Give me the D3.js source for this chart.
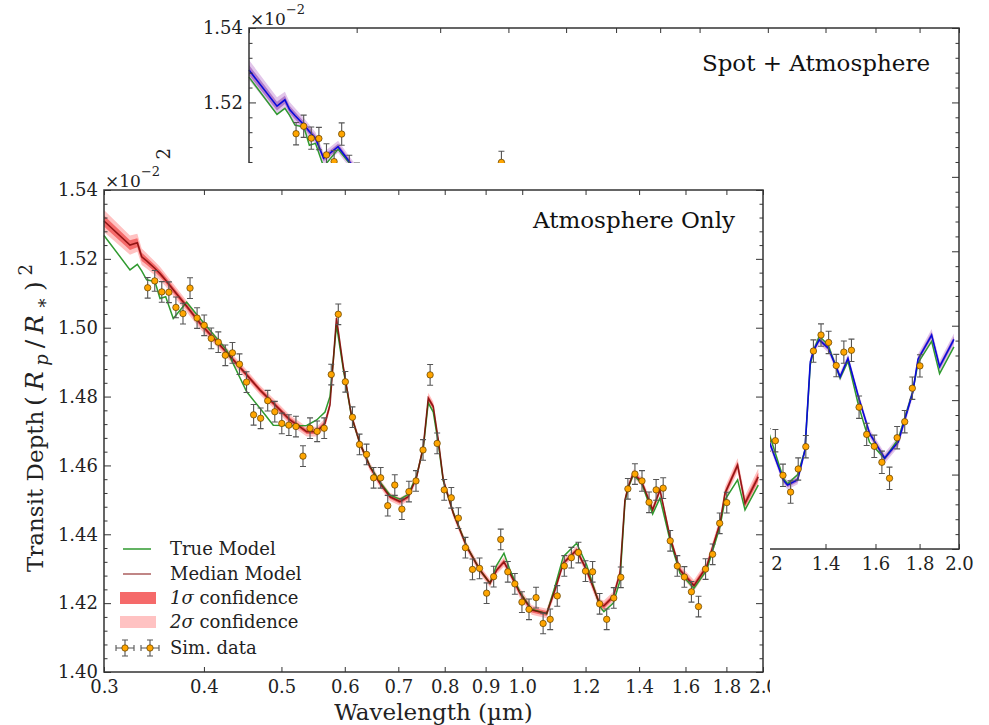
<!doctype html>
<html lang="en">
<head>
<meta charset="utf-8">
<title>Transit depth: atmosphere only vs spot + atmosphere</title>
<style>
  body { margin: 0; background: #fff; }
  svg { display: block; font-family: "DejaVu Serif", serif; }
</style>
</head>
<body>
<svg id="chart" width="989" height="725"></svg>
<script src="https://d3js.org/d3.v7.min.js"></script>
<script>
// simulated data points (shared by both panels)
const wavelengths = [0.3402,0.3472,0.3543,0.3616,0.3690,0.3766,0.3843,0.3922,0.4003,0.4085,
  0.4169,0.4254,0.4342,0.4431,0.4522,0.4615,0.4709,0.4806,0.4905,0.5005,
  0.5108,0.5213,0.5320,0.5429,0.5541,0.5655,0.5771,0.5889,0.6010,0.6134,
  0.6260,0.6388,0.6519,0.6653,0.6790,0.6929,0.7072,0.7217,0.7365,0.7516,
  0.7671,0.7828,0.7989,0.8153,0.8321,0.8492,0.8666,0.8844,0.9026,0.9211,
  0.9400,0.9593,0.9790,0.9992,1.0197,1.0406,1.0620,1.0838,1.1061,1.1288,
  1.1520,1.1757,1.1998,1.2245,1.2496,1.2753,1.3015,1.3282,1.3555,1.3833,
  1.4117,1.4407,1.4703,1.5005,1.5313,1.5628,1.5949,1.6276,1.6611,1.6952,
  1.7300,1.7655,1.8018];
const simDepth = [1.5116,1.5136,1.5104,1.5103,1.5059,1.5041,1.5115,1.5028,1.5007,1.4969,
  1.4958,1.4920,1.4927,1.4894,1.4842,1.4747,1.4737,1.4788,1.4756,1.4722,
  1.4717,1.4713,1.4627,1.4708,1.4699,1.4708,1.4864,1.5039,1.4843,1.4740,
  1.4661,1.4632,1.4564,1.4564,1.4483,1.4543,1.4473,1.4524,1.4555,1.4645,
  1.4863,1.4664,1.4529,1.4506,1.4447,1.4361,1.4298,1.4301,1.4229,1.4277,
  1.4385,1.4291,1.4256,1.4203,1.4182,1.4216,1.4141,1.4153,1.4221,1.4308,
  1.4332,1.4347,1.4293,1.4291,1.4198,1.4153,1.4215,1.4275,1.4532,1.4575,
  1.4555,1.4493,1.4529,1.4534,1.4381,1.4308,1.4276,1.4233,1.4190,1.4299,
  1.4342,1.4432,1.4492];
const simErr = 0.003;

// model curves
const modelWl = [0.300,0.3233,0.3302,0.3344,0.3392,0.3474,0.3525,0.3583,0.3662,0.3806,
  0.3955,0.4271,0.4524,0.4700,0.4884,0.5124,0.5274,0.5377,0.5534,0.5668,
  0.5750,0.5858,0.5974,0.6120,0.6268,0.6451,0.6640,0.6834,0.7033,0.7203,
  0.7379,0.7521,0.7630,0.7741,0.7853,0.7967,0.8200,0.8522,0.8855,0.9113,
  0.9291,0.9488,0.9653,0.9935,1.0276,1.0729,1.0988,1.1254,1.1697,1.2038,
  1.2508,1.2650,1.2996,1.3250,1.3442,1.3570,1.3767,1.4104,1.4557,1.4866,
  1.5301,1.5747,1.6395,1.7005,1.767,1.7926,1.859,1.899,1.973];
const trueModel = [1.5268,1.5168,1.5184,1.5165,1.5139,1.5134,1.5085,1.5090,1.5027,1.5074,
  1.5027,1.4935,1.4814,1.4766,1.4717,1.4716,1.4715,1.4716,1.4732,1.4755,
  1.4800,1.5008,1.4880,1.4740,1.4664,1.4598,1.4552,1.4514,1.4502,1.4516,
  1.4570,1.4650,1.4782,1.4755,1.4665,1.4555,1.4463,1.4366,1.4296,1.4258,
  1.4310,1.4345,1.4296,1.4232,1.4182,1.4169,1.4248,1.4335,1.4374,1.4311,
  1.4190,1.4175,1.4200,1.4265,1.4495,1.4535,1.4572,1.4548,1.4459,1.4505,
  1.4383,1.4287,1.4243,1.4296,1.4422,1.4500,1.4558,1.4471,1.4543];
const medianAtm = [1.5310,1.5240,1.5247,1.5206,1.5194,1.5172,1.5157,1.5138,1.5110,1.5062,
  1.5013,1.4928,1.4863,1.4819,1.4781,1.4732,1.4712,1.4698,1.4698,1.4722,
  1.4776,1.5028,1.4887,1.4742,1.4664,1.4596,1.4548,1.4509,1.4495,1.4509,
  1.4567,1.4654,1.4795,1.4771,1.4674,1.4558,1.4461,1.4364,1.4296,1.4258,
  1.4296,1.4320,1.4287,1.4229,1.4180,1.4170,1.4238,1.4316,1.4354,1.4296,
  1.4195,1.4192,1.4219,1.4287,1.4500,1.4538,1.4577,1.4553,1.4471,1.4529,
  1.4393,1.4296,1.4251,1.4306,1.4432,1.4519,1.4601,1.4490,1.4567];
const sigmaAtm = [0.0016,0.0014,0.0013,0.0012,0.0011,0.0010,0.0010,0.0009,0.0009,0.0008,
  0.0008,0.0007,0.0007,0.0007,0.0007,0.0007,0.0007,0.0007,0.0007,0.0007,
  0.0007,0.0008,0.0007,0.0006,0.0006,0.0006,0.0006,0.0006,0.0006,0.0006,
  0.0006,0.0006,0.0008,0.0007,0.0006,0.0006,0.0006,0.0006,0.0006,0.0006,
  0.0006,0.0007,0.0006,0.0007,0.0007,0.0007,0.0007,0.0006,0.0006,0.0007,
  0.0008,0.0008,0.0007,0.0007,0.0006,0.0006,0.0006,0.0006,0.0007,0.0006,
  0.0006,0.0007,0.0008,0.0008,0.0008,0.0009,0.0010,0.0011,0.0012];
const medianSpot = [1.5287,1.5190,1.5207,1.5181,1.5165,1.5140,1.5122,1.5104,1.5050,1.5081,
  1.5030,1.4940,1.4819,1.4770,1.4721,1.4720,1.4719,1.4720,1.4736,1.4759,
  1.4804,1.5012,1.4884,1.4744,1.4668,1.4602,1.4556,1.4518,1.4506,1.4520,
  1.4574,1.4654,1.4786,1.4759,1.4669,1.4559,1.4467,1.4370,1.4300,1.4262,
  1.4312,1.4346,1.4298,1.4236,1.4186,1.4173,1.4250,1.4337,1.4376,1.4290,
  1.4185,1.4172,1.4186,1.4265,1.4503,1.4535,1.4562,1.4540,1.4463,1.4512,
  1.4406,1.4311,1.4244,1.4288,1.4420,1.4510,1.4575,1.4490,1.4563];
const sigmaSpot = [0.00135,0.0012,0.0011,0.0010,0.0010,0.0009,0.0009,0.0008,0.0008,0.0008,
  0.0007,0.0007,0.0006,0.0006,0.0006,0.0006,0.0006,0.0006,0.0006,0.0006,
  0.0006,0.0007,0.0006,0.0006,0.0006,0.0006,0.0006,0.0006,0.0006,0.0006,
  0.0006,0.0006,0.0007,0.0006,0.0006,0.0006,0.0006,0.0006,0.0006,0.0006,
  0.0006,0.0006,0.0006,0.0006,0.0006,0.0006,0.0006,0.0006,0.0006,0.0006,
  0.0006,0.0006,0.0006,0.0006,0.0006,0.0006,0.0006,0.0006,0.0006,0.0006,
  0.0006,0.0006,0.0007,0.0007,0.0007,0.0007,0.0008,0.0008,0.0008];

const xTicks = [0.3,0.4,0.5,0.6,0.7,0.8,0.9,1.0,1.2,1.4,1.6,1.8,2.0];
const yTicks = [1.40,1.42,1.44,1.46,1.48,1.50,1.52,1.54];
const yMinor = d3.range(1.404, 1.54, 0.004).filter(v => Math.abs(Math.round(v * 50) - v * 50) > 0.01);

// the front figure is pasted over the back one in this box
const cover = { x: 0, y: 163, w: 770, h: 562 };

const svg = d3.select("#chart");

function depthLabel(g, x0, y0) {
  // rotated y label, drawn upward from (x0, y0)
  g.append("text").attr("transform", `translate(${x0},${y0}) rotate(-90)`)
    .attr("font-size", 23).attr("fill", "#222")
    .text("Transit Depth");
  const t2 = g.append("text").attr("transform", `translate(${x0},${y0 - 166}) rotate(-90)`)
    .attr("font-size", 25).attr("fill", "#222")
    .attr("textLength", 142).attr("lengthAdjust", "spacing");
  t2.append("tspan").text("(");
  t2.append("tspan").attr("font-style", "italic").text("R");
  t2.append("tspan").attr("dy", 5).attr("font-size", 18).attr("font-style", "italic").text("p");
  t2.append("tspan").attr("dy", -5).text("/");
  t2.append("tspan").attr("font-style", "italic").text("R");
  t2.append("tspan").attr("dy", 5).attr("font-size", 18).text("∗");
  t2.append("tspan").attr("dy", -5).text(")");
  t2.append("tspan").attr("dy", -11).attr("font-size", 18).text("2");
}

function drawPanel(root, p) {
  const x = d3.scaleLog().domain([0.3, 2.0]).range([p.left, p.right]);
  const y = d3.scaleLinear().domain([1.40, 1.54]).range([p.bottom, p.top]);
  const model = modelWl.map((wl, i) => ({ wl: wl, t: trueModel[i], m: p.median[i], s: p.sigma[i] }));
  const pts = wavelengths.map((wl, i) => ({ wl: wl, v: simDepth[i] }));

  const band = k => d3.area()
    .x(d => x(d.wl))
    .y0(d => y(d.m - k * d.s))
    .y1(d => y(d.m + k * d.s));

  root.append("path").datum(model).attr("d", band(2)).attr("fill", p.band2);
  root.append("path").datum(model).attr("d", band(1)).attr("fill", p.band1);
  root.append("path").datum(model)
    .attr("d", d3.line().x(d => x(d.wl)).y(d => y(d.t)))
    .attr("fill", "none").attr("stroke", "#2f9a2f").attr("stroke-width", 1.5);
  root.append("path").datum(model)
    .attr("d", d3.line().x(d => x(d.wl)).y(d => y(d.m)))
    .attr("fill", "none").attr("stroke", p.lineColor)
    .attr("stroke-width", 1.6).attr("stroke-opacity", p.lineOpacity);

  const eb = root.append("g").selectAll("g").data(pts).join("g")
    .attr("transform", d => `translate(${x(d.wl)},0)`);
  eb.append("path")
    .attr("d", d => {
      const a = y(d.v + simErr), b = y(d.v - simErr);
      return `M0,${a}V${b}M-3,${a}H3M-3,${b}H3`;
    })
    .attr("stroke", "#555").attr("stroke-width", 1.1).attr("fill", "none");
  eb.append("circle").attr("cy", d => y(d.v)).attr("r", 3.2)
    .attr("fill", "#ffa500").attr("stroke", "#5a3c00").attr("stroke-width", 0.7);

  const styleAxis = g => {
    g.select(".domain").remove();
    g.attr("font-family", "DejaVu Serif").attr("font-size", 18);
    g.selectAll(".tick line").attr("stroke", "#333");
    g.selectAll(".tick text").attr("fill", "#222");
  };
  root.append("g").attr("transform", `translate(0,${p.bottom})`)
    .call(d3.axisBottom(x).tickValues(xTicks).tickFormat(d3.format(".1f"))
      .tickSize(-5).tickSizeOuter(0).tickPadding(8))
    .call(styleAxis);
  root.append("g").attr("transform", `translate(0,${p.top})`)
    .call(d3.axisTop(x).tickValues(xTicks).tickFormat("").tickSize(-5).tickSizeOuter(0))
    .call(styleAxis);
  root.append("g").attr("transform", `translate(${p.left},0)`)
    .call(d3.axisLeft(y).tickValues(yTicks).tickFormat(d3.format(".2f"))
      .tickSize(-7).tickSizeOuter(0).tickPadding(6))
    .call(styleAxis);
  root.append("g").attr("transform", `translate(${p.left},0)`)
    .call(d3.axisLeft(y).tickValues(yMinor).tickFormat("").tickSize(-3.5).tickSizeOuter(0))
    .call(styleAxis);
  root.append("g").attr("transform", `translate(${p.right},0)`)
    .call(d3.axisRight(y).tickValues(yTicks).tickFormat("").tickSize(-7).tickSizeOuter(0))
    .call(styleAxis);
  root.append("g").attr("transform", `translate(${p.right},0)`)
    .call(d3.axisRight(y).tickValues(yMinor).tickFormat("").tickSize(-3.5).tickSizeOuter(0))
    .call(styleAxis);

  root.append("rect")
    .attr("x", p.left).attr("y", p.top)
    .attr("width", p.right - p.left).attr("height", p.bottom - p.top)
    .attr("fill", "none").attr("stroke", "#333").attr("stroke-width", 1.5);

  // offset text
  const off = root.append("text").attr("x", p.left + 1).attr("y", p.top - 3)
    .attr("font-size", 17).attr("fill", "#222");
  off.append("tspan").text("×10");
  off.append("tspan").attr("dy", -11).attr("font-size", 13).text("−2");

  root.append("text").attr("x", p.titleX).attr("y", p.titleY)
    .attr("text-anchor", "end").attr("font-size", 23).attr("fill", "#111")
    .text(p.title);

  root.append("text").attr("x", (p.left + p.right) / 2).attr("y", p.bottom + 48)
    .attr("text-anchor", "middle").attr("font-size", 23).attr("fill", "#222")
    .text("Wavelength (µm)");
}

// back panel: spot + atmosphere
const back = svg.append("g");
drawPanel(back, {
  left: 249, right: 959, top: 28, bottom: 549,
  median: medianSpot, sigma: sigmaSpot,
  band1: "#b27ccc", band2: "#e2c6ea", lineColor: "#0a0ad8", lineOpacity: 1,
  title: "Spot + Atmosphere", titleX: 930, titleY: 71
});
depthLabel(back, 181, 456);
// texts of the back figure that lie wholly under the front figure are never seen
back.selectAll("text").each(function () {
  const r = this.getBoundingClientRect();
  if (r.right <= cover.x + cover.w && r.top >= cover.y) d3.select(this).remove();
});

// front panel: atmosphere only, pasted on top
svg.append("defs").append("clipPath").attr("id", "frontClip")
  .append("rect").attr("x", cover.x).attr("y", cover.y).attr("width", cover.w).attr("height", cover.h);
const front = svg.append("g").attr("clip-path", "url(#frontClip)");
front.append("rect").attr("x", cover.x).attr("y", cover.y).attr("width", cover.w).attr("height", cover.h)
  .attr("fill", "#fff");
drawPanel(front, {
  left: 104, right: 763, top: 190, bottom: 672,
  median: medianAtm, sigma: sigmaAtm,
  band1: "#f56a6a", band2: "#ffc2c2", lineColor: "#7a0000", lineOpacity: 0.8,
  title: "Atmosphere Only", titleX: 735, titleY: 228
});
depthLabel(front, 43, 572);

// legend
const lg = front.append("g").attr("font-size", 18).attr("fill", "#222");
const rows = [549, 574, 598, 622, 648];
lg.append("line").attr("x1", 123).attr("x2", 151).attr("y1", rows[0]).attr("y2", rows[0])
  .attr("stroke", "#2f9a2f").attr("stroke-width", 1.5);
lg.append("line").attr("x1", 123).attr("x2", 151).attr("y1", rows[1]).attr("y2", rows[1])
  .attr("stroke", "#7a0000").attr("stroke-opacity", 0.6).attr("stroke-width", 1.6);
lg.append("rect").attr("x", 120).attr("y", rows[2] - 6).attr("width", 36).attr("height", 12).attr("fill", "#f56a6a");
lg.append("rect").attr("x", 120).attr("y", rows[3] - 6).attr("width", 36).attr("height", 12).attr("fill", "#ffc2c2");
[125, 150].forEach(cx => {
  const cy = rows[4];
  lg.append("path")
    .attr("d", `M${cx},${cy - 8}V${cy + 8}M${cx - 3},${cy - 8}H${cx + 3}M${cx - 3},${cy + 8}H${cx + 3}` +
      `M${cx - 9},${cy}H${cx + 9}M${cx - 9},${cy - 3}V${cy + 3}M${cx + 9},${cy - 3}V${cy + 3}`)
    .attr("stroke", "#555").attr("stroke-width", 1.1).attr("fill", "none");
  lg.append("circle").attr("cx", cx).attr("cy", cy).attr("r", 3.2)
    .attr("fill", "#ffa500").attr("stroke", "#5a3c00").attr("stroke-width", 0.7);
});
lg.append("text").attr("x", 170).attr("y", rows[0] + 6).text("True Model");
lg.append("text").attr("x", 170).attr("y", rows[1] + 6).text("Median Model");
const s1 = lg.append("text").attr("x", 170).attr("y", rows[2] + 6);
s1.append("tspan").attr("font-style", "italic").text("1σ");
s1.append("tspan").text(" confidence");
const s2 = lg.append("text").attr("x", 170).attr("y", rows[3] + 6);
s2.append("tspan").attr("font-style", "italic").text("2σ");
s2.append("tspan").text(" confidence");
lg.append("text").attr("x", 170).attr("y", rows[4] + 6).text("Sim. data");
</script>
</body>
</html>
